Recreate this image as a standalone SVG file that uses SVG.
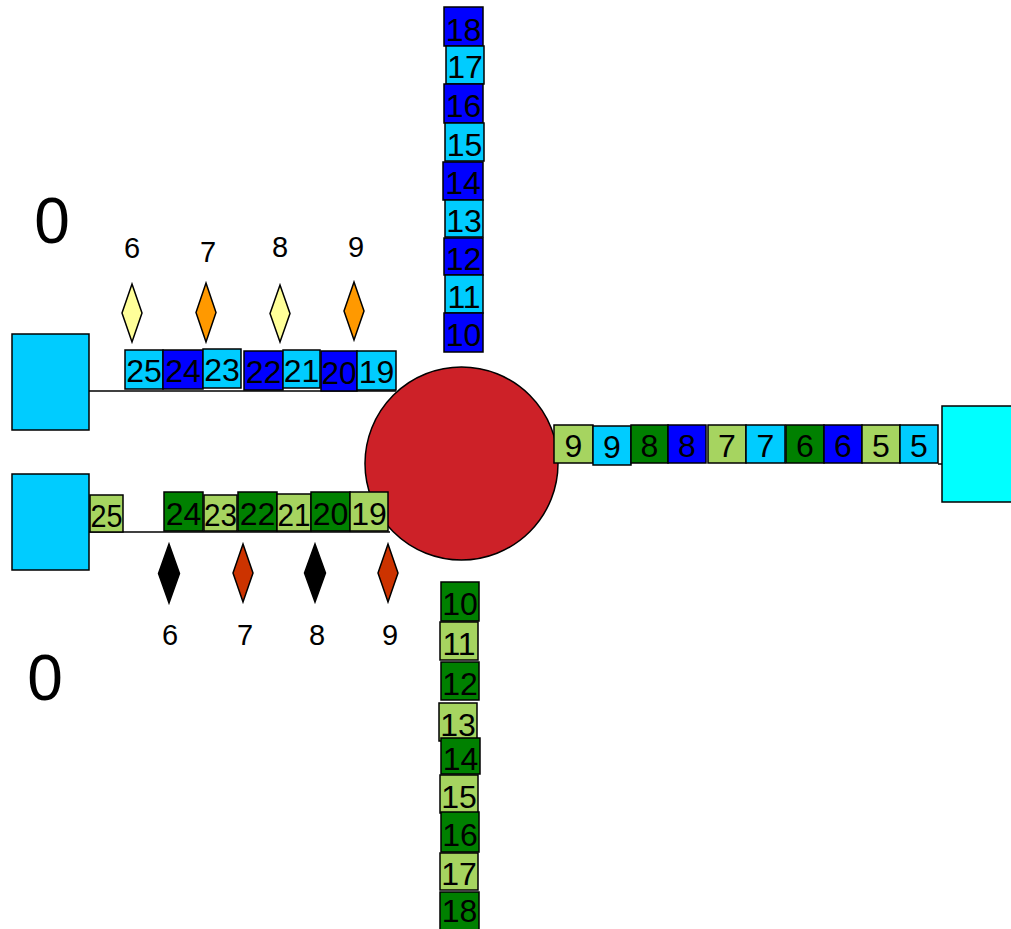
<svg xmlns="http://www.w3.org/2000/svg" width="1011" height="929" viewBox="0 0 1011 929">
<style>
.b rect{stroke:#000;stroke-width:1.5}
.b text,.lbl{font-family:"Liberation Sans",Arial,sans-serif;font-size:32px;text-anchor:middle;fill:#000}
.lbl{font-size:29px}
.big{font-family:"Liberation Sans",Arial,sans-serif;font-size:64px;text-anchor:middle;fill:#000}
.db{fill:#0000FF}.cy{fill:#00CCFF}.dg{fill:#008000}.lg{fill:#A6D460}
.dm{stroke:#000;stroke-width:1.5}
.sq{stroke:#000;stroke-width:1.5}
.conn line{stroke:#000;stroke-width:1.5}
</style>
<rect width="1011" height="929" fill="#fff"/>
<g id="connectors" class="conn">
<line x1="89" y1="391" x2="396" y2="391"/>
<line x1="89" y1="532" x2="390" y2="532"/>
<line x1="938" y1="464" x2="942" y2="464"/>
</g>
<g id="hub"><circle cx="461.5" cy="463.5" r="96.5" fill="#CD2128" stroke="#000" stroke-width="1.5"/></g>
<g id="sourceTop"><rect class="sq" x="12" y="334" width="77" height="96" fill="#00CCFF"/></g>
<g id="sourceBottom"><rect class="sq" x="12" y="474" width="77" height="96" fill="#00CCFF"/></g>
<g id="sinkRight"><rect class="sq" x="942" y="406" width="80" height="96" fill="#00FFFF"/></g>
<g id="labelTop0"><text class="big" x="52" y="243">0</text></g>
<g id="labelBottom0"><text class="big" x="45" y="700">0</text></g>

<g id="columnTop" class="b">
<rect class="db" x="444" y="7" width="39" height="39"/><text x="463.5" y="41">18</text>
<rect class="cy" x="446" y="46" width="38" height="38"/><text x="465" y="78">17</text>
<rect class="db" x="444" y="84" width="39" height="39"/><text x="463.5" y="117">16</text>
<rect class="cy" x="445" y="123" width="39" height="38"/><text x="464.5" y="156">15</text>
<rect class="db" x="443" y="162" width="40" height="38"/><text x="463" y="194">14</text>
<rect class="cy" x="445" y="200" width="38" height="37"/><text x="464" y="232">13</text>
<rect class="db" x="444" y="238" width="39" height="37"/><text x="463.5" y="270">12</text>
<rect class="cy" x="445" y="275" width="38" height="38"/><text x="464" y="308">11</text>
<rect class="db" x="444" y="313" width="39" height="39"/><text x="463.5" y="346">10</text>
</g>

<g id="rowTopLeft" class="b">
<rect class="cy" x="125" y="350" width="38" height="39"/><text x="144" y="382">25</text>
<rect class="db" x="163" y="350" width="40" height="39"/><text x="183" y="382">24</text>
<rect class="cy" x="203" y="349" width="38" height="39"/><text x="222" y="381">23</text>
<rect class="db" x="244" y="351" width="39" height="39"/><text x="263.5" y="383">22</text>
<rect class="cy" x="283" y="350" width="37" height="38"/><text x="301.5" y="382">21</text>
<rect class="db" x="321" y="351" width="36" height="40"/><text x="339" y="384" textLength="35" lengthAdjust="spacingAndGlyphs">20</text>
<rect class="cy" x="357" y="351" width="39" height="39"/><text x="376.5" y="383">19</text>
</g>

<g id="rowBottomLeft" class="b">
<rect class="lg" x="90" y="495" width="33" height="37"/><text x="106.5" y="527" textLength="32" lengthAdjust="spacingAndGlyphs">25</text>
<rect class="dg" x="164" y="492" width="39" height="39"/><text x="183.5" y="525">24</text>
<rect class="lg" x="204" y="495" width="33" height="36"/><text x="220.5" y="526" textLength="33" lengthAdjust="spacingAndGlyphs">23</text>
<rect class="dg" x="238" y="492" width="39" height="39"/><text x="257.5" y="525">22</text>
<rect class="lg" x="277" y="494" width="34" height="37"/><text x="294" y="526" textLength="33" lengthAdjust="spacingAndGlyphs">21</text>
<rect class="dg" x="311" y="492" width="39" height="39"/><text x="330.5" y="525">20</text>
<rect class="lg" x="350" y="492" width="38" height="39"/><text x="369" y="525">19</text>
</g>

<g id="rowRight" class="b">
<rect class="lg" x="554" y="425" width="39" height="38"/><text x="573.5" y="457">9</text>
<rect class="cy" x="593" y="426" width="38" height="39"/><text x="612" y="458">9</text>
<rect class="dg" x="631" y="425" width="37" height="38"/><text x="649.5" y="457">8</text>
<rect class="db" x="668" y="425" width="38" height="38"/><text x="687" y="457">8</text>
<rect class="lg" x="708" y="425" width="38" height="38"/><text x="727" y="457">7</text>
<rect class="cy" x="746" y="425" width="39" height="38"/><text x="765.5" y="457">7</text>
<rect class="dg" x="786" y="425" width="38" height="38"/><text x="805" y="457">6</text>
<rect class="db" x="824" y="425" width="38" height="38"/><text x="843" y="457">6</text>
<rect class="lg" x="862" y="425" width="38" height="38"/><text x="881" y="457">5</text>
<rect class="cy" x="900" y="425" width="38" height="38"/><text x="919" y="457">5</text>
</g>

<g id="columnBottom" class="b">
<rect class="dg" x="441" y="582" width="38" height="39"/><text x="460" y="615">10</text>
<rect class="lg" x="440" y="622" width="38" height="38"/><text x="459" y="655">11</text>
<rect class="dg" x="441" y="662" width="38" height="38"/><text x="460" y="695">12</text>
<rect class="lg" x="439" y="703" width="38" height="38"/><text x="458" y="736">13</text>
<rect class="dg" x="441" y="738" width="39" height="36"/><text x="460.5" y="770">14</text>
<rect class="lg" x="440" y="775" width="38" height="38"/><text x="459" y="808">15</text>
<rect class="dg" x="441" y="812" width="38" height="40"/><text x="460" y="846">16</text>
<rect class="lg" x="440" y="853" width="38" height="37"/><text x="459" y="885">17</text>
<rect class="dg" x="440" y="892" width="39" height="40"/><text x="459.5" y="922">18</text>
</g>

<g id="markersTop">
<polygon class="dm" points="132,284 142,313 132,342 122,313" fill="#FFFF99"/><text class="lbl" x="132" y="258">6</text>
<polygon class="dm" points="206,283 216,312.5 206,342 196,312.5" fill="#FF9900"/><text class="lbl" x="208" y="262">7</text>
<polygon class="dm" points="280,285 290,313.5 280,342 270,313.5" fill="#FFFF99"/><text class="lbl" x="280" y="257">8</text>
<polygon class="dm" points="354,282 364,311 354,340 344,311" fill="#FF9900"/><text class="lbl" x="356" y="257">9</text>
</g>

<g id="markersBottom">
<polygon class="dm" points="169,544 179.5,573.5 169,603 158.5,573.5" fill="#000"/><text class="lbl" x="170" y="645">6</text>
<polygon class="dm" points="243,544 253,573 243,602 233,573" fill="#CC3300"/><text class="lbl" x="245" y="645">7</text>
<polygon class="dm" points="315,544 325.5,573 315,602 304.5,573" fill="#000"/><text class="lbl" x="317" y="645">8</text>
<polygon class="dm" points="388,544 398,573 388,602 378,573" fill="#CC3300"/><text class="lbl" x="390" y="645">9</text>
</g>
</svg>
